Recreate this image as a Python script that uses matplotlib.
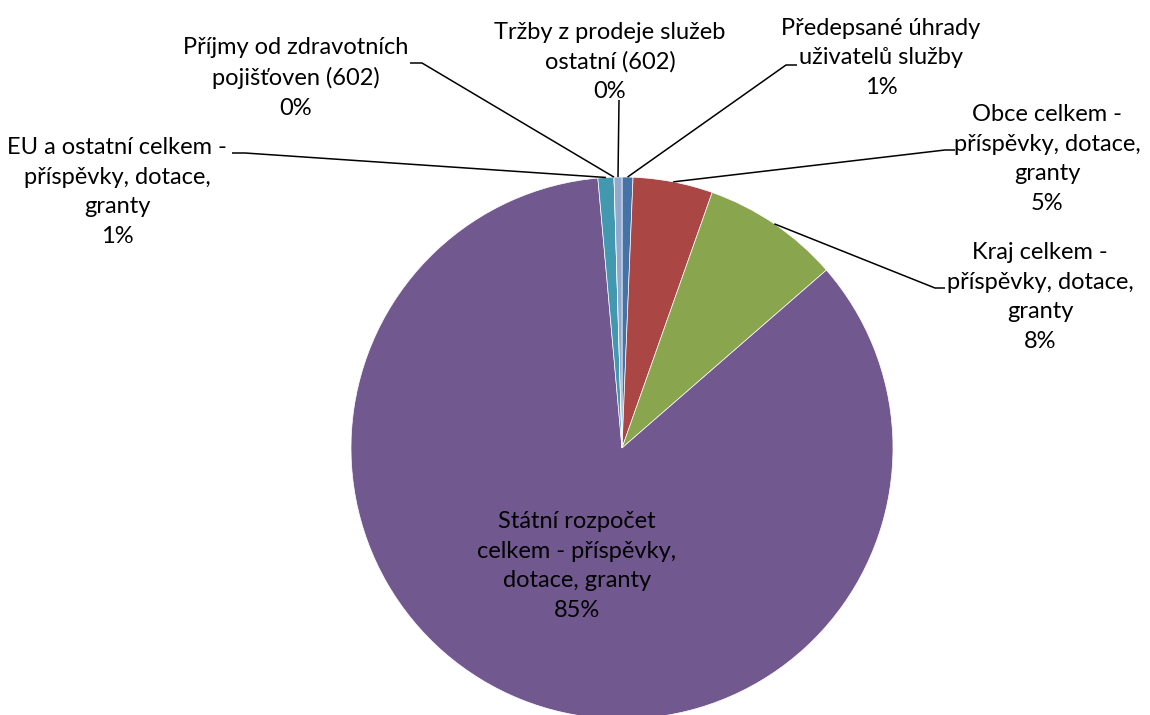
import matplotlib
matplotlib.use('Agg')
import matplotlib.pyplot as plt
import numpy as np

# ---- data (clockwise from 12 o'clock) ----
categories = [
    "Předepsané úhrady\nuživatelů služby",
    "Obce celkem -\npříspěvky, dotace,\ngranty",
    "Kraj celkem -\npříspěvky, dotace,\ngranty",
    "Státní rozpočet\ncelkem - příspěvky,\ndotace, granty",
    "EU a ostatní celkem -\npříspěvky, dotace,\ngranty",
    "Příjmy od zdravotních\npojišťoven (602)",
    "Tržby z prodeje služeb\nostatní (602)",
]
values = [0.65, 4.75, 8.2, 84.98, 0.95, 0.0, 0.47]
colors = ['#4572A7', '#AA4643', '#89A54E', '#71588F', '#4198AF', '#DB843D', '#92A8CD']

# ---- layout (pixel coordinates, y measured from top) ----
W, H = 1150, 715
cx, cy, R = 622, 448, 271
label_pos = [(881, 58), (1047, 159), (1040, 297), (577, 566), (117, 192), (296, 78), (610, 62)]
# leader line start points (text side), None for inside label
leader_start = [
    [(797, 65), (786, 65)],
    [(955, 150), (945, 150)],
    [(945, 288), (935, 288)],
    None,
    [(232, 153), (245, 153)],
    [(410, 63), (422, 63)],
    [(619, 100)],
]

FONT = ['Lato', 'DejaVu Sans']
FS = 17

fig = plt.figure(figsize=(W / 100, H / 100), dpi=100)
ax = fig.add_axes([0, 0, 1, 1])

def Y(y):
    return H - y

wedges, _ = ax.pie(values, colors=colors, startangle=90, counterclock=False,
                   center=(cx, Y(cy)), radius=R,
                   wedgeprops=dict(edgecolor='white', linewidth=0.5))
ax.set_xlim(0, W)
ax.set_ylim(0, H)
ax.set_aspect('equal')
ax.axis('off')

total = sum(values)
for i, (cat, v) in enumerate(zip(categories, values)):
    pct = f"{round(v / total * 100)}%"
    lx, ly = label_pos[i]
    ax.text(lx, Y(ly), cat + "\n" + pct, ha='center', va='center',
            multialignment='center', fontsize=FS, family=FONT,
            linespacing=1.50, color='#000000', zorder=5)
    if leader_start[i] is not None:
        w = wedges[i]
        mid = np.deg2rad((w.theta1 + w.theta2) / 2)
        ax_pt = (cx + R * np.cos(mid), Y(cy) + R * np.sin(mid))
        pts = [(x, Y(y)) for x, y in leader_start[i]] + [ax_pt]
        xs, ys = zip(*pts)
        ax.plot(xs, ys, color='black', lw=1.1, zorder=4, solid_capstyle='butt')

fig.savefig('out.png', dpi=100)
